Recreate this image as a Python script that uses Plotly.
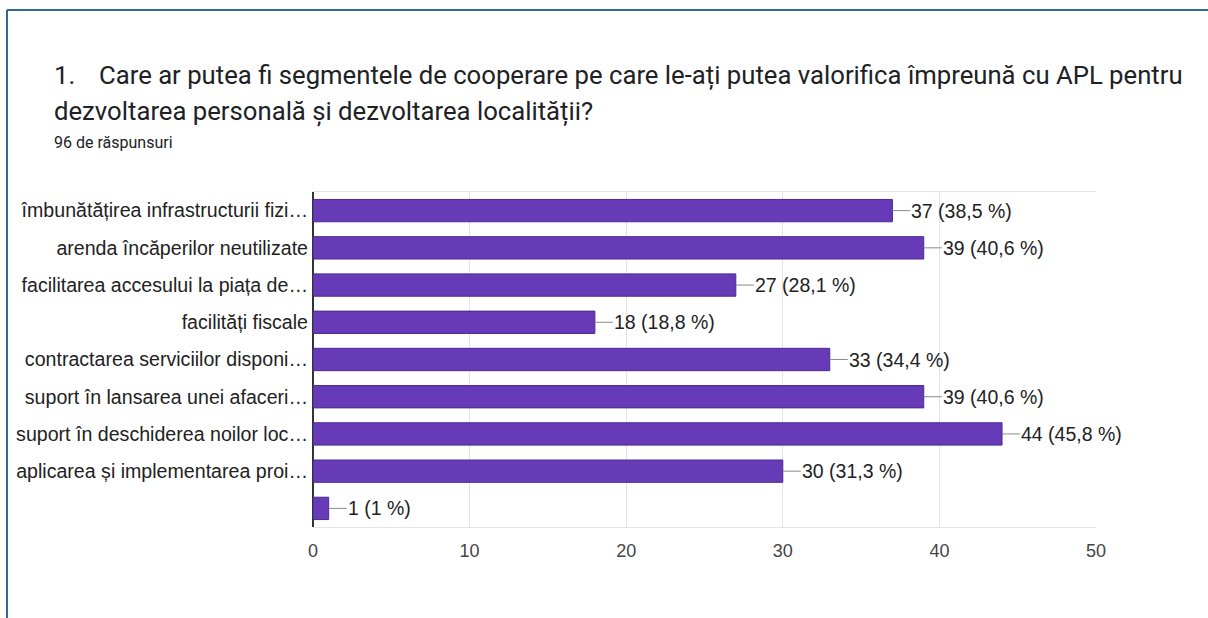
import plotly.graph_objects as go

# ---- data ----
categories = [
    "îmbunătățirea infrastructurii fizi…",
    "arenda încăperilor neutilizate",
    "facilitarea accesului la piața de…",
    "facilități fiscale",
    "contractarea serviciilor disponi…",
    "suport în lansarea unei afaceri…",
    "suport în deschiderea noilor loc…",
    "aplicarea și implementarea proi…",
    " ",
]
counts = [37, 39, 27, 18, 33, 39, 44, 30, 1]
percent_labels = ["38,5 %", "40,6 %", "28,1 %", "18,8 %", "34,4 %", "40,6 %", "45,8 %", "31,3 %", "1 %"]
x_ticks = [0, 10, 20, 30, 40, 50]

title_num = "1."
title_line1 = "Care ar putea fi segmentele de cooperare pe care le-ați putea valorifica împreună cu APL pentru"
title_line2 = "dezvoltarea personală și dezvoltarea localității?"
subtitle = "96 de răspunsuri"

# ---- layout geometry (pixels) ----
W, H = 1208, 618
L, R, T, B = 313, 1096, 192, 527


def px_x(px):
    return (px - L) / (R - L)


def px_y(py):
    return (B - py) / (B - T)


AXIS_FONT = "Liberation Sans, Arial, sans-serif"
TITLE_FONT = "Roboto, Arial, sans-serif"

fig = go.Figure()
fig.add_trace(go.Bar(
    x=counts,
    y=categories,
    orientation="h",
    marker=dict(color="#673ab7", line=dict(color="#4d2a93", width=1)),
    width=0.6,
    hoverinfo="skip",
))

annotations = []
for c, v, p in zip(categories, counts, percent_labels):
    annotations.append(dict(
        x=v, y=c, xref="x", yref="y",
        text=f"{v} ({p})",
        showarrow=True, arrowhead=0, arrowwidth=1, arrowcolor="#8a8a8a",
        ax=18, ay=0, axref="pixel", ayref="pixel",
        xanchor="left", yanchor="middle",
        font=dict(family=AXIS_FONT, size=19.5, color="#222222"),
        borderpad=0,
    ))

annotations += [
    dict(x=px_x(52), y=px_y(75), xref="paper", yref="paper", text=title_num,
         showarrow=False, xanchor="left", yanchor="middle",
         font=dict(family=TITLE_FONT, size=25.7, color="#202124")),
    dict(x=px_x(97), y=px_y(75), xref="paper", yref="paper", text=title_line1,
         showarrow=False, xanchor="left", yanchor="middle",
         font=dict(family=TITLE_FONT, size=25.7, color="#202124")),
    dict(x=px_x(52), y=px_y(111), xref="paper", yref="paper", text=title_line2,
         showarrow=False, xanchor="left", yanchor="middle",
         font=dict(family=TITLE_FONT, size=25.7, color="#202124")),
    dict(x=px_x(52), y=px_y(143), xref="paper", yref="paper", text=subtitle,
         showarrow=False, xanchor="left", yanchor="middle",
         font=dict(family=TITLE_FONT, size=16, color="#202124")),
]

shapes = [
    dict(type="line", xref="paper", yref="paper",
         x0=px_x(7), x1=px_x(W + 5), y0=px_y(10), y1=px_y(10),
         line=dict(color="#2f6a96", width=2)),
    dict(type="line", xref="paper", yref="paper",
         x0=px_x(7), x1=px_x(7), y0=px_y(10), y1=px_y(H + 5),
         line=dict(color="#2f6a96", width=2)),
]

fig.update_layout(
    width=W, height=H,
    margin=dict(l=L, r=W - R, t=T, b=H - B, pad=0),
    paper_bgcolor="white", plot_bgcolor="white",
    showlegend=False,
    bargap=0.4,
    annotations=annotations,
    shapes=shapes,
    xaxis=dict(
        range=[0, 50], tickvals=x_ticks, ticks="",
        showgrid=True, gridcolor="#e4e4e4", gridwidth=1,
        zeroline=True, zerolinecolor="#333333", zerolinewidth=1.5,
        showline=True, mirror=True, linecolor="#e4e4e4", linewidth=1,
        tickfont=dict(family=AXIS_FONT, size=18, color="#444444"),
        ticklabelstandoff=7,
    ),
    yaxis=dict(
        categoryorder="array", categoryarray=categories,
        autorange="reversed", ticks="", showgrid=False, zeroline=False,
        showline=False,
        tickfont=dict(family=AXIS_FONT, size=19.6, color="#222222"),
        ticklabelstandoff=4,
    ),
)

fig.write_html("out.html")
